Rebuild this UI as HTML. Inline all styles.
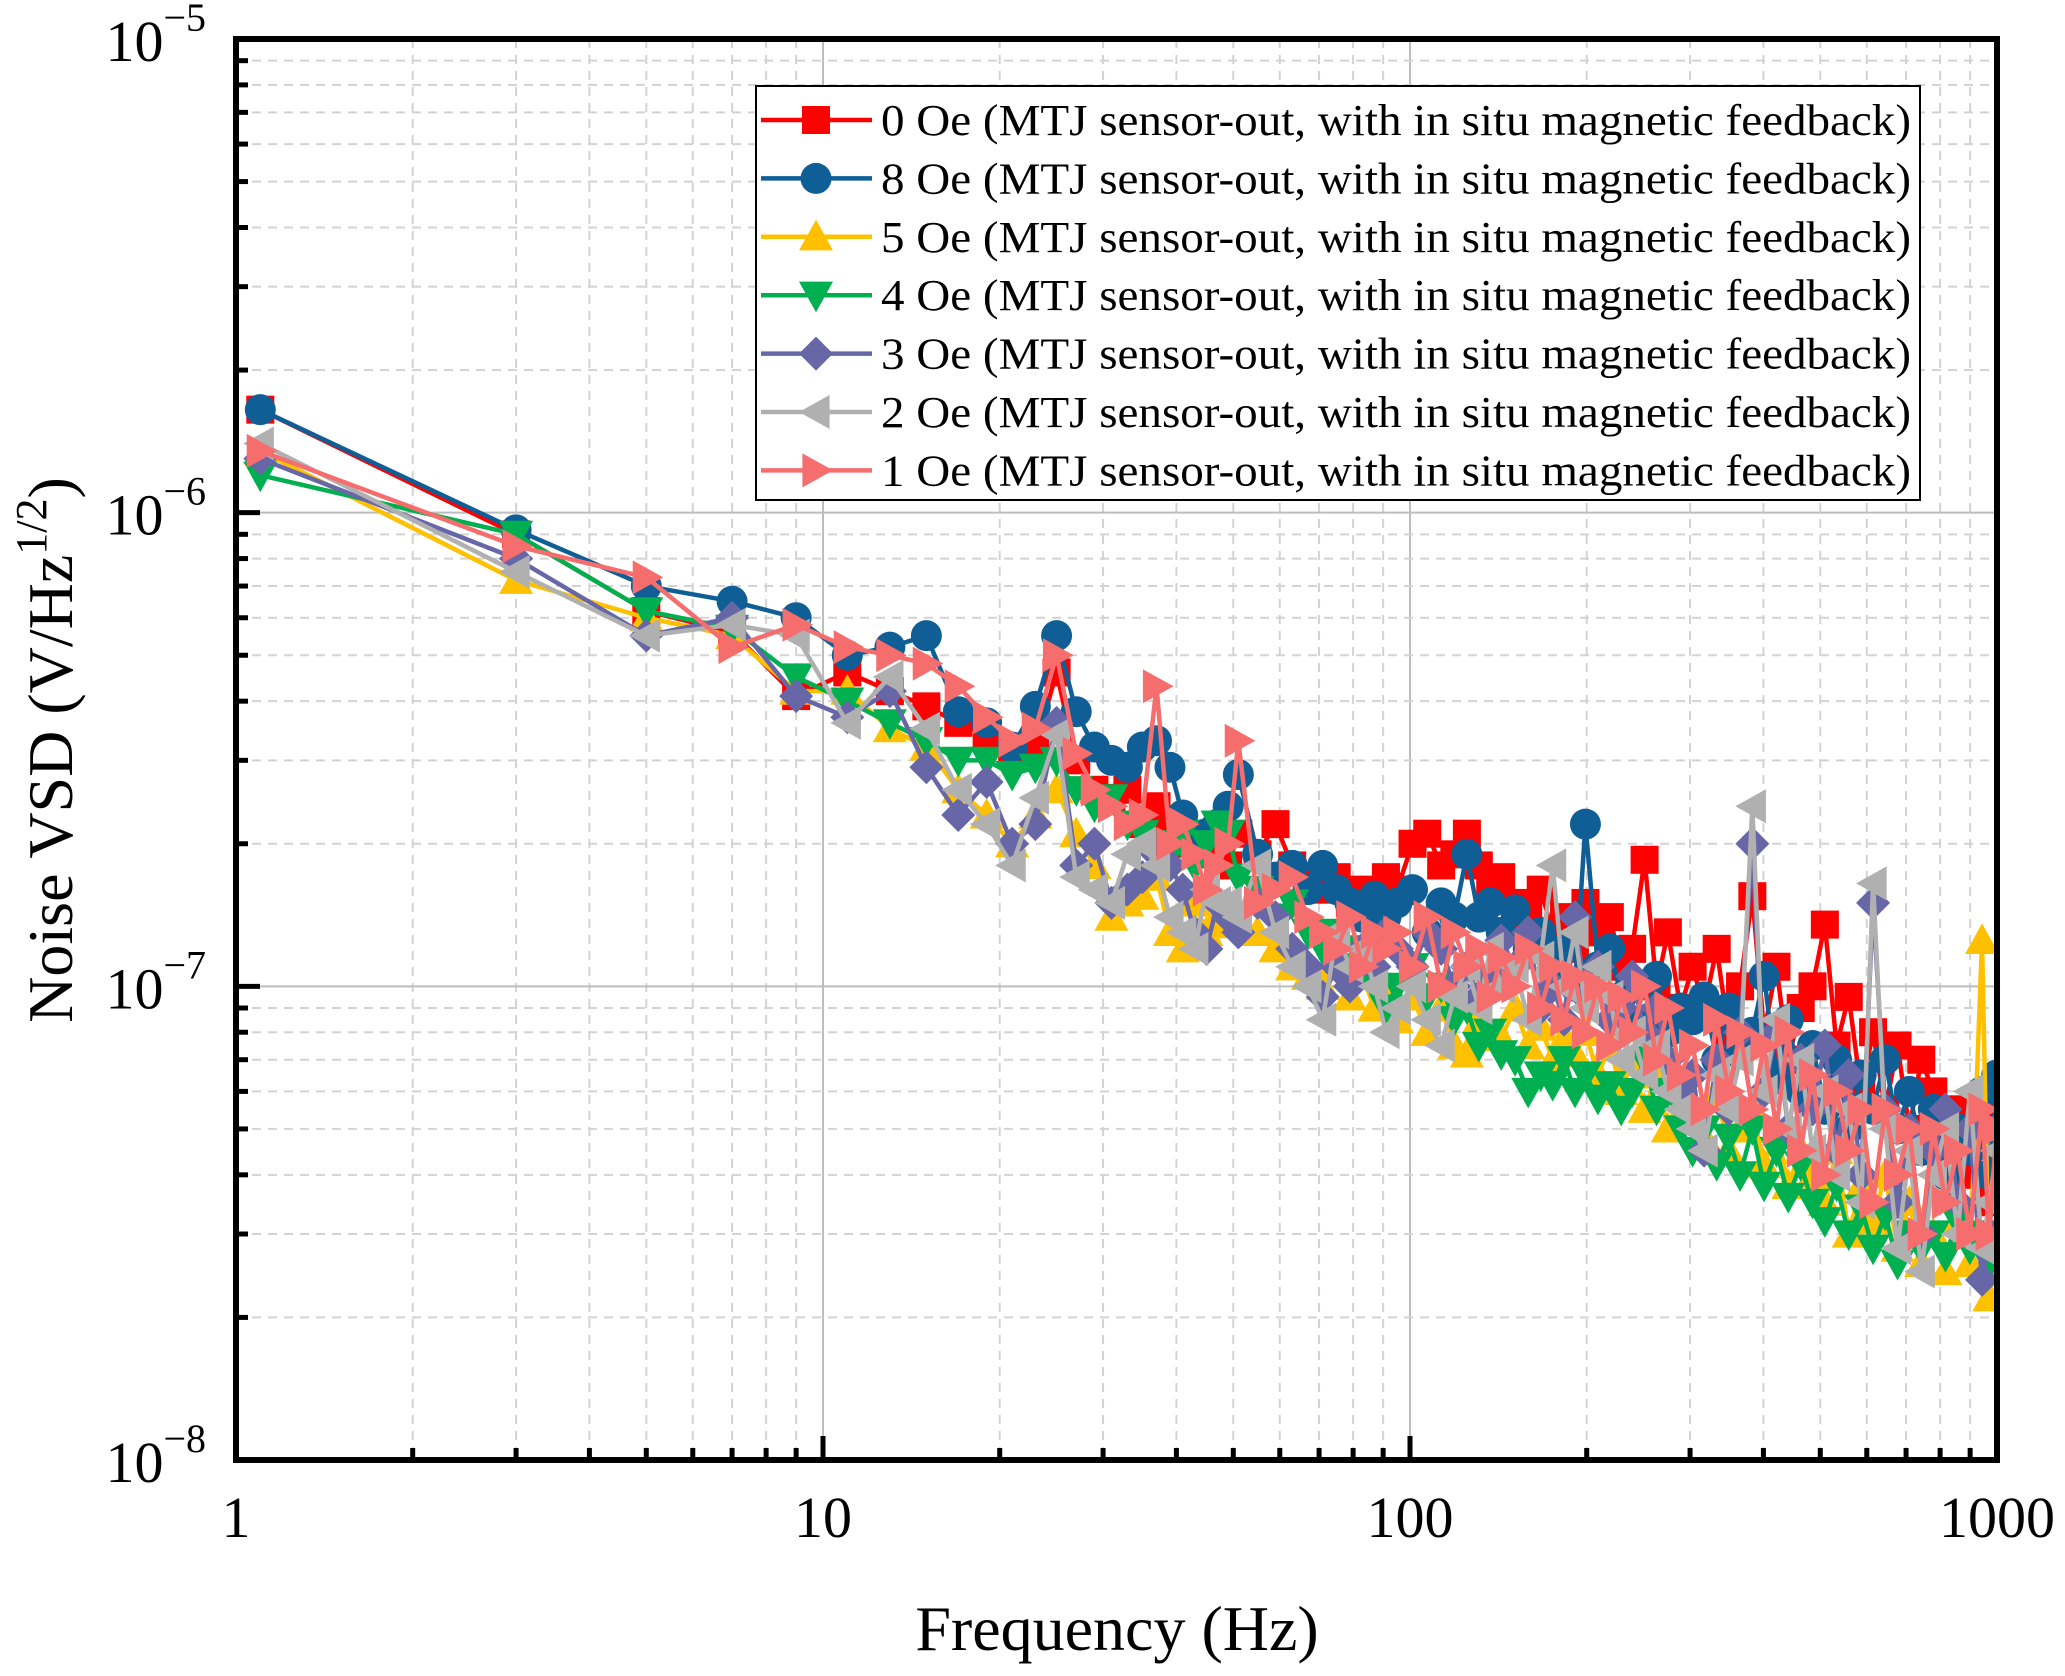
<!DOCTYPE html>
<html><head><meta charset="utf-8"><style>
html,body{margin:0;padding:0;background:#fff;}
svg{display:block;font-family:"Liberation Serif","Times New Roman",serif;}
</style></head><body>
<svg id="chart" width="2065" height="1676" viewBox="0 0 2065 1676" xmlns="http://www.w3.org/2000/svg">
<g id="grid"></g>
<g id="series"></g>
<g id="axes"></g>
<g id="legend"></g>
</svg>
<script>
const freqs = [1.1,3,5,7,9, 11,13,15,17,19, 21,23,25,27,29, 31,33,35,37,39, 41,43,45,47,49, 51,55,59,63,67, 71,75,79,83,87, 91,95,101,107,113, 119,125,131,137,143, 151,159,167,175,183, 191,199,209,219,229, 239,251,263,275,289, 303,317,333,349,365, 383,401,421,441,463, 485,509,533,559,587, 615,645,677,709,743, 779,817,857,899,943, 970,999];
// values in units of 1e-7 V/Hz^1/2
const s0Oe = [16.5,9,6.2,5.6,4.1, 4.6,4.2,3.9,3.6,3.4, 3.1,3.2,4.6,3.0,2.6, 2.5,2.6,2.2,2.4,2.1, 2.0,2.1,1.9,2.0,1.8, 2.1,1.9,2.2,1.8,1.7, 1.6,1.7,1.5,1.6,1.5, 1.7,1.6,2.0,2.1,1.8, 1.9,2.1,1.8,1.6,1.7, 1.5,1.4,1.6,1.3,1.4, 1.2,1.5,1.3,1.4,1.1, 1.2,1.85,1.0,1.3,0.9, 1.1,0.9,1.2,0.8,1.0, 1.55,0.8,1.1,0.7,0.9, 1.0,1.35,0.75,0.95,0.6, 0.8,0.55,0.75,0.5,0.7, 0.6,0.45,0.55,0.4,0.5, 0.35,0.55];
const s8Oe = [16.5,9.2,7,6.5,6.0, 5.0,5.2,5.5,3.8,3.6, 3.2,3.9,5.5,3.8,3.2, 3.0,2.9,3.2,3.3,2.9, 2.3,2.0,2.1,2.2,2.4, 2.8,1.9,1.7,1.8,1.6, 1.8,1.6,1.5,1.4,1.55, 1.4,1.5,1.6,1.3,1.5, 1.4,1.9,1.4,1.5,1.3, 1.45,1.2,1.3,1.1,1.2, 1.0,2.2,1.1,1.2,0.95, 1.0,0.85,1.05,0.8,0.9, 0.85,0.95,0.7,0.9,0.75, 0.8,1.05,0.65,0.85,0.6, 0.75,0.55,0.7,0.5,0.65, 0.55,0.7,0.5,0.6,0.45, 0.55,0.4,0.5,0.45,0.6, 0.4,0.65];
const s5Oe = [13.5,7.2,6.0,5.5,4.2, 4.2,3.5,3.2,2.6,2.3, 2.0,2.3,2.6,2.1,1.8, 1.4,1.5,1.55,1.7,1.3, 1.2,1.5,1.3,1.4,1.35, 1.4,1.3,1.2,1.1,1.05, 1.0,1.1,0.95,1.05,0.9, 1.0,0.85,0.95,0.8,0.9, 0.75,0.72,0.85,0.8,0.78, 0.9,0.75,0.82,0.7,0.78, 0.72,0.8,0.65,0.75,0.6, 0.7,0.55,0.65,0.5,0.6, 0.55,0.48,0.6,0.45,0.5, 0.55,0.42,0.5,0.38,0.45, 0.4,0.35,0.45,0.3,0.38, 0.32,0.4,0.28,0.35,0.26, 0.3,0.25,0.32,0.26,1.25, 0.22,0.3];
const s4Oe = [12,9.0,6.2,5.7,4.5, 4.0,3.6,3.3,3.0,3.0, 2.8,2.9,3.0,2.6,2.4, 2.5,2.2,2.1,2.0,1.9, 2.1,1.8,2.0,2.2,2.1, 1.7,1.6,1.4,1.5,1.3, 1.2,1.3,1.1,1.2,1.0, 0.9,1.0,1.1,0.95,1.0, 0.85,0.9,0.75,0.8,0.72, 0.7,0.6,0.65,0.62,0.7, 0.6,0.65,0.58,0.62,0.55, 0.6,0.7,0.55,0.6,0.5, 0.45,0.5,0.42,0.48,0.4, 0.5,0.38,0.45,0.36,0.42, 0.35,0.32,0.38,0.3,0.34, 0.28,0.33,0.26,0.3,0.28, 0.3,0.27,0.32,0.28,0.3, 0.26,0.3];
const s3Oe = [13,8.0,5.5,6.0,4.1, 3.7,4.2,2.9,2.3,2.7, 2.0,2.2,3.6,1.8,2.0, 1.5,1.6,1.7,1.9,1.8, 1.6,1.3,1.2,1.5,1.4, 1.3,1.5,1.4,1.2,1.1, 0.95,1.1,1.0,1.2,1.1, 1.3,1.2,1.1,1.3,1.2, 1.0,1.1,0.95,1.05,1.25, 1.1,1.3,0.9,1.0,0.85, 1.4,0.95,1.1,0.85,0.9, 1.05,0.8,0.9,0.7,0.6, 0.65,0.45,0.7,0.55,0.8, 2.0,0.6,0.8,0.5,0.7, 0.55,0.75,0.45,0.65,0.4, 1.5,0.55,0.35,0.5,0.3, 0.45,0.55,0.35,0.5,0.24, 0.3,0.5];
const s2Oe = [14,7.5,5.5,5.8,5.5, 3.6,4.5,3.5,2.6,2.2, 1.8,2.5,3.4,1.7,1.6, 1.5,1.9,2.0,1.8,1.4, 1.3,1.2,1.6,1.5,1.5, 1.4,1.8,1.3,1.1,1.0, 0.85,1.3,1.1,1.2,1.0, 0.8,0.9,1.0,0.85,0.75, 0.95,1.1,0.9,1.2,1.0, 1.1,0.85,1.15,1.8,1.0, 1.3,0.9,1.1,0.95,0.7, 0.8,0.65,0.75,0.6,0.55, 0.5,0.45,0.65,0.55,0.7, 2.4,0.6,0.85,0.5,0.7, 0.45,0.6,0.4,0.55,0.35, 1.65,0.5,0.28,0.45,0.25, 0.4,0.5,0.3,0.6,0.28, 0.35,0.45];
const s1Oe = [13.5,8.5,7.3,5.2,5.8, 5.2,5.0,4.8,4.3,3.7, 3.3,3.5,5.0,3.1,2.6, 2.4,2.2,2.3,4.3,2.0, 2.2,1.9,1.6,1.8,2.0, 3.3,1.5,1.6,1.7,1.4, 1.3,1.2,1.4,1.1,1.3, 1.2,1.3,1.1,1.4,1.0, 1.3,1.1,1.2,0.95,1.15, 1.0,1.2,0.9,1.1,0.85, 1.05,0.8,1.0,0.75,0.95, 0.8,1.0,0.7,0.9,0.65, 0.75,0.55,0.85,0.6,0.8, 0.55,0.75,0.5,0.8,0.45, 0.65,0.4,0.6,0.45,0.55, 0.35,0.55,0.4,0.5,0.3, 0.5,0.35,0.45,0.3,0.55, 0.3,0.5];
const seriesLabels = ["0 Oe","8 Oe","5 Oe","4 Oe","3 Oe","2 Oe","1 Oe"];
const xTicks = [1,10,100,1000];
const xTickLabels = ["1","10","100","1000"];
const yTickExps = [-5,-6,-7,-8];

const NS="http://www.w3.org/2000/svg";
const L=236,R=1997,T=39,B=1460;
const xS=f=>L+(Math.log10(f)-0)/3*(R-L);
const yS=v=>B-(Math.log10(v)+8)/3*(B-T);
function mk(tag,attrs,parent){const e=document.createElementNS(NS,tag);for(const k in attrs)e.setAttribute(k,attrs[k]);parent.appendChild(e);return e;}
const grid=document.getElementById('grid'),axes=document.getElementById('axes'),sg=document.getElementById('series'),lg=document.getElementById('legend');

for(let d=0;d<3;d++){for(let m=1;m<10;m++){const f=Math.pow(10,d)*m;const x=xS(f);
  if(m===1){ if(d>0){const g=mk('line',{x1:x,x2:x,y1:T,y2:B,stroke:'#bdbdbd','stroke-width':2},grid);}
    const t=mk('line',{x1:x,x2:x,y1:B,y2:B-24,stroke:'#000','stroke-width':5},axes);}
  else{const g=mk('line',{x1:x,x2:x,y1:T,y2:B,stroke:'#d3d3d3','stroke-width':2,'stroke-dasharray':'9 7'},grid);
    const t=mk('line',{x1:x,x2:x,y1:B,y2:B-12,stroke:'#000','stroke-width':5},axes);}
}}
for(let d=-8;d<-5;d++){for(let m=1;m<10;m++){const v=Math.pow(10,d)*m;const y=yS(v);
  if(m===1){ if(d>-8){const g=mk('line',{x1:L,x2:R,y1:y,y2:y,stroke:'#bdbdbd','stroke-width':2},grid);}
    const t=mk('line',{x1:L,x2:L+24,y1:y,y2:y,stroke:'#000','stroke-width':5},axes);}
  else{const g=mk('line',{x1:L,x2:R,y1:y,y2:y,stroke:'#d3d3d3','stroke-width':2,'stroke-dasharray':'9 7'},grid);
    const t=mk('line',{x1:L,x2:L+12,y1:y,y2:y,stroke:'#000','stroke-width':5},axes);}
}}
const frame=mk('rect',{x:L,y:T,width:R-L,height:B-T,fill:'none',stroke:'#000','stroke-width':6},axes);



xTicks.forEach((f,i)=>{const t=mk('text',{x:xS(f),y:1537,'text-anchor':'middle','font-size':58},axes);t.textContent=xTickLabels[i];
  
  });
yTickExps.forEach(e=>{const y=yS(Math.pow(10,e));const t=mk('text',{x:206,y:y+22,'text-anchor':'end','font-size':58},axes);
  t.innerHTML='10<tspan font-size="40" dy="-30">\u2212'+(-e)+'</tspan>';
  
  });
const xt=mk('text',{x:1117,y:1650,'text-anchor':'middle','font-size':64},axes);xt.textContent='Frequency (Hz)';


const yt=mk('text',{x:0,y:0,'text-anchor':'middle','font-size':64,transform:'translate(72,750) rotate(-90)'},axes);
yt.innerHTML='Noise VSD (V/Hz<tspan font-size="44" dy="-26">1/2</tspan><tspan dy="26">)</tspan>';



const colors=['#ff0000','#0f5f96','#ffc000','#00b050','#6767a8','#b0b0b0','#f56d6d'];
const shapes=['square','circle','up','down','diamond','left','right'];
const data=[s0Oe,s8Oe,s5Oe,s4Oe,s3Oe,s2Oe,s1Oe];
function marker(shape,x,y,c,parent){const s=17;let e;
  if(shape==='square')e=mk('rect',{x:x-14,y:y-14,width:28,height:28,fill:c},parent);
  else if(shape==='circle')e=mk('circle',{cx:x,cy:y,r:15.5,fill:c},parent);
  else{let p;
    if(shape==='up')p=[[x,y-s],[x+s,y+s*0.8],[x-s,y+s*0.8]];
    if(shape==='down')p=[[x,y+s],[x+s,y-s*0.8],[x-s,y-s*0.8]];
    if(shape==='left')p=[[x-s,y],[x+s*0.8,y-s],[x+s*0.8,y+s]];
    if(shape==='right')p=[[x+s,y],[x-s*0.8,y-s],[x-s*0.8,y+s]];
    if(shape==='diamond')p=[[x,y-s],[x+s,y],[x,y+s],[x-s,y]];
    e=mk('polygon',{points:p.map(q=>q.join(',')).join(' '),fill:c},parent);}
  return e;}
data.forEach((vals,si)=>{const g=mk('g',{},sg);
  
  
  const n=Math.min(vals.length,freqs.length);
  const pts=[];for(let i=0;i<n;i++)pts.push([xS(freqs[i]),yS(vals[i]*1e-7)]);
  const pl=mk('polyline',{points:pts.map(p=>p.join(',')).join(' '),fill:'none',stroke:colors[si],'stroke-width':4.5,'stroke-linejoin':'round'},g);
  
  
  pts.forEach(p=>{const m=marker(shapes[si],p[0],p[1],colors[si],g);
    
    });
});
const clip=mk('clipPath',{id:'cp'},document.getElementById('chart'));mk('rect',{x:L,y:T,width:R-L,height:B-T},clip);
sg.setAttribute('clip-path','url(#cp)');

const box=mk('rect',{x:756,y:86,width:1164,height:414,fill:'#fff',stroke:'#000','stroke-width':2},lg);


seriesLabels.forEach((lab,i)=>{const y=120+i*58.4;const g=mk('g',{},lg);
  
  
  mk('line',{x1:761,x2:872,y1:y,y2:y,stroke:colors[i],'stroke-width':4.5},g);
  marker(shapes[i],816,y,colors[i],g);
  const t=mk('text',{x:881,y:y+15,'font-size':44,textLength:1030,lengthAdjust:'spacingAndGlyphs'},g);
  t.textContent=lab+' (MTJ sensor-out, with in situ magnetic feedback)';
});
</script>
</body></html>
